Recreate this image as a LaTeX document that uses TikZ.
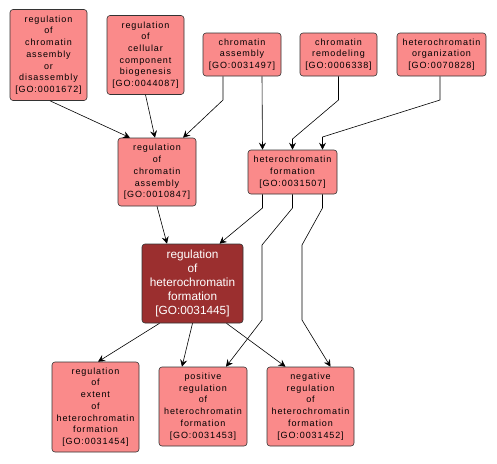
\documentclass[tikz,border=0pt]{standalone}
\usepackage{fontspec}
\newfontfamily\lab[LetterSpace=10]{Liberation Sans}
\newfontfamily\dlab{Liberation Sans}
\usetikzlibrary{arrows.meta}
\definecolor{lightn}{RGB}{250,138,138}
\definecolor{darkn}{RGB}{155,47,47}
\tikzset{
  gonode/.style={draw=black!80, line width=0.6pt, rounded corners=3pt, fill=lightn, inner sep=0pt, align=center, font=\lab\fontsize{9}{11.7}\selectfont},
  godark/.style={gonode, fill=darkn, text=white, font=\dlab\fontsize{11.8}{14}\selectfont},
  arr/.style={draw=black, line width=0.6pt, -{Stealth[length=7pt,width=7pt,inset=2.5pt]}}
}
\begin{document}
\begin{tikzpicture}[x=1pt,y=-1pt]
\useasboundingbox (0,0) rectangle (497,463);
\node[gonode, minimum width=77pt, minimum height=91pt] (A) at (48.5,55) {regulation\\of\\chromatin\\assembly\\or\\disassembly\\{[}GO:0001672{]}};
\node[gonode, minimum width=77pt, minimum height=79pt] (B) at (145.5,55) {regulation\\of\\cellular\\component\\biogenesis\\{[}GO:0044087{]}};
\node[gonode, minimum width=78pt, minimum height=43pt] (C) at (242,54.5) {chromatin\\assembly\\{[}GO:0031497{]}};
\node[gonode, minimum width=77pt, minimum height=43pt] (D) at (338.5,54.5) {chromatin\\remodeling\\{[}GO:0006338{]}};
\node[gonode, minimum width=89pt, minimum height=43pt] (E) at (441.5,54.5) {heterochromatin\\organization\\{[}GO:0070828{]}};
\node[gonode, minimum width=89pt, minimum height=44pt] (F) at (292.5,172) {heterochromatin\\formation\\{[}GO:0031507{]}};
\node[gonode, minimum width=78pt, minimum height=68pt] (G) at (157,172) {regulation\\of\\chromatin\\assembly\\{[}GO:0010847{]}};
\node[godark, minimum width=101pt, minimum height=79pt] (H) at (192.5,283.5) {regulation\\of\\heterochromatin\\formation\\{[}GO:0031445{]}};
\node[gonode, minimum width=87pt, minimum height=90pt] (I) at (95.5,407) {regulation\\of\\extent\\of\\heterochromatin\\formation\\{[}GO:0031454{]}};
\node[gonode, minimum width=88pt, minimum height=79pt] (J) at (203,406.5) {positive\\regulation\\of\\heterochromatin\\formation\\{[}GO:0031453{]}};
\node[gonode, minimum width=87pt, minimum height=79pt] (K) at (310.5,406.5) {negative\\regulation\\of\\heterochromatin\\formation\\{[}GO:0031452{]}};
% edges
\draw[arr] ([xshift=1.5pt]A.south) -- ([xshift=-27pt]G.north);
\draw[arr] (B.south) -- ([xshift=-2pt]G.north);
\draw[arr] ([xshift=-19pt]C.south) -- (223,100) -- ([xshift=26pt]G.north);
\draw[arr] ([xshift=20pt]C.south) -- ([xshift=-30pt]F.north);
\draw[arr] (D.south) -- (338.5,100) -- (292.5,139) -- (F.north);
\draw[arr] ([xshift=-1.5pt]E.south) -- (440,100) -- (322.5,137) -- ([xshift=30pt]F.north);
\draw[arr] ([xshift=-30pt]F.south) -- (262.5,208) -- ([xshift=27pt]H.north);
\draw[arr] (G.south) -- ([xshift=-25.5pt]H.north);
\draw[arr] (F.south) -- (292.5,208) -- (262,245) -- (262,320) -- ([xshift=23pt]J.north);
\draw[arr] ([xshift=30pt]F.south) -- (322.5,208) -- (302,245) -- (302,320) -- ([xshift=20pt]K.north);
\draw[arr] ([xshift=-33pt]H.south) -- ([xshift=2.5pt]I.north);
\draw[arr] (H.south) -- ([xshift=-21pt]J.north);
\draw[arr] ([xshift=34pt]H.south) -- ([xshift=-25pt]K.north);
\end{tikzpicture}
\end{document}
